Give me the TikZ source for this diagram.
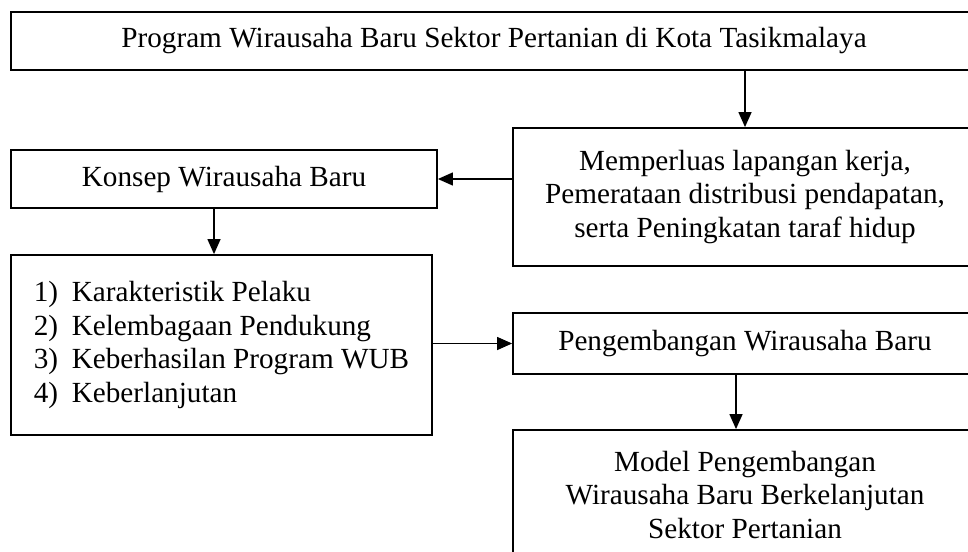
\documentclass[tikz,border=0pt]{standalone}
\usepackage{fontspec}
\setmainfont{Liberation Serif}
\usetikzlibrary{arrows.meta}
\begin{document}
\begin{tikzpicture}[x=1pt,y=-1pt,
  box/.style={draw=black, line width=1.8pt, inner sep=0pt, align=center,
    font=\fontsize{29.2}{33.6}\selectfont},
  arr/.style={draw=black, line width=1.3pt, -{Triangle[length=15pt,width=13pt]}}]
\useasboundingbox[fill=white] (0,0) rectangle (968,551);
\node[box, minimum width=966pt, minimum height=58pt] (top) at (494,41)
  {Program Wirausaha Baru Sektor Pertanian di Kota Tasikmalaya};
\node[box, minimum width=426pt, minimum height=58pt] (konsep) at (224,179)
  {Konsep Wirausaha Baru};
\node[box, minimum width=464pt, minimum height=138pt] (mem) at (745,197)
  {Memperluas lapangan kerja,\\Pemerataan distribusi pendapatan,\\serta Peningkatan taraf hidup};
\node[box, minimum width=421pt, minimum height=180pt, align=left] (list) at (221.5,345)
  {\makebox[38pt][l]{1)}Karakteristik Pelaku\\
   \makebox[38pt][l]{2)}Kelembagaan Pendukung\\
   \makebox[38pt][l]{3)}Keberhasilan Program WUB\\
   \makebox[38pt][l]{4)}Keberlanjutan};
\node[box, minimum width=464pt, minimum height=61pt] (peng) at (745,343.5)
  {Pengembangan Wirausaha Baru};
\node[box, minimum width=464pt, minimum height=130pt] (model) at (745,495)
  {Model Pengembangan\\Wirausaha Baru Berkelanjutan\\Sektor Pertanian};
\draw[arr] (mem.north |- top.south) -- (mem.north);
\draw[arr] (konsep.east -| mem.west) -- (konsep.east);
\coordinate (k1) at ([xshift=-10pt]konsep.south);
\draw[arr] (k1) -- (k1 |- list.north);
\draw[arr] (list.east |- peng.west) -- (peng.west);
\coordinate (p1) at ([xshift=-9pt]peng.south);
\draw[arr] (p1) -- (p1 |- model.north);
\end{tikzpicture}
\end{document}
